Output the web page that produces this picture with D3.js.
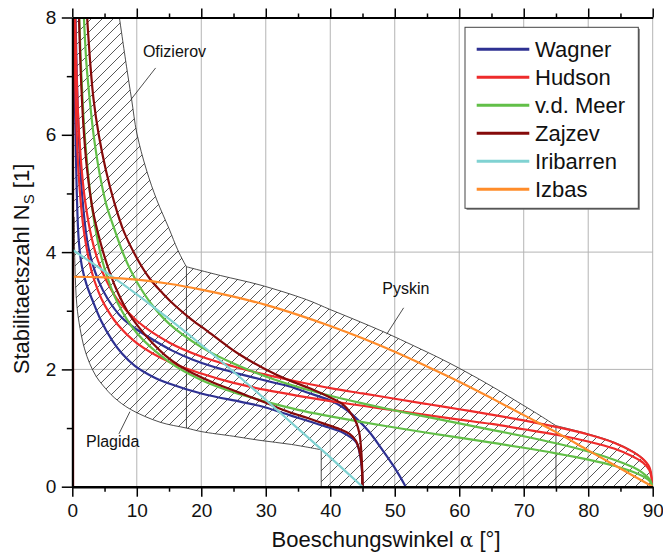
<!DOCTYPE html>
<html>
<head>
<meta charset="utf-8">
<script src="https://cdn.jsdelivr.net/npm/d3@7"></script>
<style>
  body { margin: 0; background: #fff; }
  text { font-family: "Liberation Sans", Arial, sans-serif; fill: #111; }
</style>
</head>
<body>
<svg id="chart" width="663" height="557"></svg>
<script>
// slope angle alpha [deg] vs. stability number Ns
var seriesNames = ["Wagner", "Hudson", "v.d. Meer", "Zajzev", "Iribarren", "Izbas"];
var seriesColors = ["#2e3192", "#ee2b2b", "#62bf48", "#850a0a", "#80d2d2", "#ff8c2a"];

var wagnerUpper = [[0.5,8],[0.7,7],[1.0,6],[1.5,5],[2.3,4.2],[3,3.85],[4.1,3.5],[5.5,3.2],[7.7,2.88],[10,2.68],[12.9,2.48],[15.5,2.32],[18.6,2.17],[22,2.04],[26,1.92],[31,1.78],[33.7,1.71],[36.3,1.61],[40,1.47],[42,1.35],[44,1.17],[46,0.94],[48,0.64],[50,0.32],[51.7,0]];
var wagnerLower = [[0.25,8],[0.35,7],[0.5,6],[0.7,5],[1.0,4.2],[1.5,3.75],[2.2,3.45],[3.05,3.2],[4.5,2.82],[6.15,2.5],[7.7,2.27],[9.7,2.06],[12.4,1.88],[15,1.76],[20,1.59],[26,1.45],[29,1.38],[33.7,1.22],[38.9,1.04],[42,0.92],[44,0.76],[44.6,0.55],[44.9,0.3],[45,0]];

var hudsonUpper = [[0.45,8],[0.6,7.26],[0.8,6.59],[1,6.12],[1.5,5.35],[2,4.86],[3,4.24],[4,3.85],[5,3.58],[7,3.19],[10,2.83],[15,2.46],[20,2.22],[25,2.05],[30,1.91],[35,1.79],[40,1.68],[45,1.59],[50,1.5],[55,1.41],[60,1.32],[65,1.23],[70,1.13],[75,1.02],[80,0.89],[84,0.75],[87,0.59],[88.5,0.47],[89.5,0.33],[90,0]];
var hudsonLower = [[0.29,8],[0.4,7.19],[0.6,6.28],[0.8,5.71],[1,5.3],[1.5,4.63],[2,4.21],[3,3.67],[4,3.34],[5,3.1],[7,2.77],[10,2.45],[15,2.13],[20,1.93],[25,1.77],[30,1.65],[35,1.55],[40,1.46],[45,1.38],[50,1.3],[55,1.22],[60,1.145],[65,1.07],[70,0.98],[75,0.886],[80,0.77],[84,0.65],[87,0.51],[88.5,0.41],[89.5,0.28],[90,0]];

var meerUpper = [[1.8,8],[2.2,7.2],[2.7,6.6],[3.3,6.0],[4.3,5.3],[5.3,4.8],[6.5,4.4],[7.8,4.0],[9,3.7],[10.5,3.4],[12.5,3.08],[15,2.78],[20,2.38],[25,2.1],[30,1.88],[35,1.7],[40,1.55],[45,1.42],[50,1.3],[55,1.19],[60,1.08],[65,0.97],[70,0.86],[75,0.74],[80,0.6],[84,0.46],[87,0.33],[88.5,0.23],[89.5,0.13],[90,0]];
var meerLower = [[1.08,8],[1.3,7.3],[1.6,6.58],[2,5.89],[3,4.81],[4,4.16],[5,3.72],[7,3.14],[10,2.62],[15,2.13],[20,1.82],[25,1.61],[30,1.45],[35,1.31],[40,1.2],[45,1.1],[50,1.01],[55,0.92],[60,0.836],[65,0.751],[70,0.664],[75,0.569],[80,0.462],[84,0.357],[87,0.252],[88.5,0.178],[89.5,0.103],[90,0]];

var zajzevUpper = [[2.3,8],[2.8,7.2],[3.3,6.6],[4.1,6.0],[5.2,5.4],[6.5,4.85],[8.0,4.35],[10,3.9],[12,3.55],[14,3.3],[16,3.08],[18.5,2.85],[21,2.65],[24,2.4],[26,2.25],[30,2.0],[33.7,1.81],[37,1.67],[40,1.52],[42,1.4],[43,1.28],[44,1.1],[44.5,0.92],[44.8,0.62],[44.95,0.3],[45,0]];
var zajzevLower = [[1.04,8],[1.3,7.1],[1.7,6.2],[2.3,5.4],[3.2,4.7],[4.4,4.15],[5.5,3.75],[6.7,3.4],[8.5,3.0],[10.3,2.72],[12.5,2.44],[14.4,2.24],[16.5,2.07],[18.6,1.94],[22,1.77],[26,1.6],[30,1.43],[33.7,1.27],[36.5,1.17],[38.9,1.08],[41.5,0.98],[43,0.9],[44,0.78],[44.5,0.62],[44.85,0.4],[45,0]];
var zajzevAxis = [[0.12,8],[0.12,0]];

var iribarren = [[0,4.04],[5,3.67],[10,3.28],[15,2.86],[20,2.42],[25,1.96],[30,1.48],[35,0.99],[40,0.5],[45,0]];
var izbas = [[0,3.58],[5,3.57],[10,3.53],[15,3.46],[20,3.36],[25,3.24],[30,3.1],[35,2.93],[40,2.74],[45,2.53],[50,2.3],[55,2.05],[60,1.79],[65,1.51],[70,1.22],[75,0.93],[80,0.62],[85,0.31],[90,0]];

// hatched range boundaries
var ofizierov = [[7.3,8],[8.4,7.17],[9.2,6.6],[10,6.03],[11.5,5.4],[13.1,4.89],[15,4.4],[16.3,4.05],[17.2,3.85],[17.7,3.75]];
var pyskin = [[17.7,3.75],[23,3.6],[29.1,3.44],[36.3,3.19],[40,3.02],[44,2.84],[48.7,2.62],[53,2.4],[57,2.19],[60,2.02],[63,1.84],[66,1.65],[69,1.45],[72,1.25],[75,1.04]];
var pyskinEnd = [[75,1.04],[80,0.9],[84,0.76],[87,0.6],[88.5,0.48],[89.5,0.33],[90,0]];
var plagida = [[0.3,4.6],[0.4,3.8],[0.7,3.1],[1.2,2.7],[1.9,2.35],[2.7,2.1],[3.7,1.88],[4.8,1.72],[6.5,1.52],[9,1.32],[13.6,1.1],[17.7,1.0],[20,0.94],[25,0.86],[29.1,0.79],[34,0.72],[38.6,0.63]];
var dividers = [[[17.7,3.75],[17.7,1.0]], [[38.6,0.63],[38.6,0]], [[75,1.04],[75,0]]];

var rangeLabels = ["Ofizierov", "Pyskin", "Plagida"];
var labelPos = [[10.95,7.33],[48.08,3.29],[2.12,0.68]];
var pointers = [[[12.92,7.14],[9.09,6.6]], [[51.38,3.05],[48.75,2.6]], [[8.94,1.28],[7.23,0.9]]];

var xTicks = [0,10,20,30,40,50,60,70,80,90];
var xMinor = [5,15,25,35,45,55,65,75,85];
var yTicks = [0,2,4,6,8];
var yMinor = [1,3,5,7];
var gridX = [10,20,30,40,50,60,70,80,90];
var gridY = [2,4];

var x = d3.scaleLinear().domain([0, 90]).range([72.3, 652.7]);
var y = d3.scaleLinear().domain([0, 8]).range([486.7, 17.5]);

var svg = d3.select("#chart");
var defs = svg.append("defs");
defs.append("clipPath").attr("id", "plot").append("rect")
  .attr("x", x(0)).attr("y", y(8))
  .attr("width", x(90) - x(0)).attr("height", y(0) - y(8));
var pat = defs.append("pattern").attr("id", "hatch")
  .attr("patternUnits", "userSpaceOnUse").attr("width", 11).attr("height", 11);
pat.append("path").attr("d", "M-1,1 L1,-1 M0,11 L11,0 M10,12 L12,10")
  .attr("stroke", "#222").attr("stroke-width", 0.75);

var line = d3.line()
  .x(function(d) { return x(d[0]); })
  .y(function(d) { return y(d[1]); })
  .curve(d3.curveCatmullRom.alpha(0.5));

// grid
svg.append("g").selectAll("line").data(gridX).join("line")
  .attr("x1", function(d) { return x(d); }).attr("x2", function(d) { return x(d); })
  .attr("y1", y(0)).attr("y2", y(8))
  .attr("stroke", "#b4b4b4").attr("stroke-width", 1);
svg.append("g").selectAll("line").data(gridY).join("line")
  .attr("x1", x(0)).attr("x2", x(90))
  .attr("y1", function(d) { return y(d); }).attr("y2", function(d) { return y(d); })
  .attr("stroke", "#b4b4b4").attr("stroke-width", 1);

// hatched area
var outline = [
  [[0.3,8],[7.3,8]], ofizierov, pyskin, pyskinEnd,
  [[90,0],[38.6,0]], [[38.6,0],[38.6,0.63]],
  plagida.slice().reverse(), [[0.3,4.6],[0.3,8]]
];
var areaPath = outline.map(function(seg, i) {
  var p = line(seg);
  return i ? p.replace(/^M/, "L") : p;
}).join("") + "Z";

var plot = svg.append("g").attr("clip-path", "url(#plot)");
plot.append("path").attr("d", areaPath).attr("fill", "url(#hatch)");

var bounds = [ofizierov, pyskin, pyskinEnd, plagida].concat(dividers);
plot.append("g").selectAll("path").data(bounds).join("path")
  .attr("d", line).attr("fill", "none")
  .attr("stroke", "#222").attr("stroke-width", 0.8);

plot.append("g").selectAll("line").data(pointers).join("line")
  .attr("x1", function(d) { return x(d[0][0]); }).attr("y1", function(d) { return y(d[0][1]); })
  .attr("x2", function(d) { return x(d[1][0]); }).attr("y2", function(d) { return y(d[1][1]); })
  .attr("stroke", "#222").attr("stroke-width", 0.8);

svg.append("g").selectAll("text").data(rangeLabels).join("text")
  .attr("x", function(d, i) { return x(labelPos[i][0]); })
  .attr("y", function(d, i) { return y(labelPos[i][1]); })
  .attr("font-size", 16)
  .text(function(d) { return d; });

// curves
var curves = [
  {s: 0, pts: wagnerUpper}, {s: 0, pts: wagnerLower},
  {s: 1, pts: hudsonUpper}, {s: 1, pts: hudsonLower},
  {s: 2, pts: meerUpper}, {s: 2, pts: meerLower},
  {s: 3, pts: zajzevUpper}, {s: 3, pts: zajzevLower}, {s: 3, pts: zajzevAxis},
  {s: 4, pts: iribarren}, {s: 5, pts: izbas}
];
plot.append("g").selectAll("path").data(curves).join("path")
  .attr("d", function(d) { return line(d.pts); })
  .attr("fill", "none")
  .attr("stroke", function(d) { return seriesColors[d.s]; })
  .attr("stroke-width", 2.2);

// axes
function styleAxis(g, w) {
  g.select(".domain").attr("stroke", "#000").attr("stroke-width", w);
  g.selectAll(".tick line").attr("stroke", "#000").attr("stroke-width", 1.5);
  g.selectAll(".tick text").attr("font-size", 19).attr("font-family", "Liberation Sans, Arial, sans-serif").attr("fill", "#111");
}

svg.append("g").attr("transform", "translate(0," + y(0) + ")")
  .call(d3.axisBottom(x).tickValues(xMinor).tickSize(5).tickFormat(""))
  .call(function(g) { g.select(".domain").remove(); })
  .call(styleAxis, 0);
svg.append("g").attr("transform", "translate(0," + y(0) + ")")
  .call(d3.axisBottom(x).tickValues(xTicks).tickSize(10).tickSizeOuter(0).tickPadding(7))
  .call(styleAxis, 2.4);

svg.append("g").attr("transform", "translate(0," + y(8) + ")")
  .call(d3.axisTop(x).tickValues(xMinor).tickSize(4).tickFormat(""))
  .call(function(g) { g.select(".domain").remove(); })
  .call(styleAxis, 0);
svg.append("g").attr("transform", "translate(0," + y(8) + ")")
  .call(d3.axisTop(x).tickValues(xTicks).tickSize(9).tickSizeOuter(0).tickFormat(""))
  .call(styleAxis, 2);

svg.append("g").attr("transform", "translate(" + x(0) + ",0)")
  .call(d3.axisLeft(y).tickValues(yMinor).tickSize(5.5).tickFormat(""))
  .call(function(g) { g.select(".domain").remove(); })
  .call(styleAxis, 0);
svg.append("g").attr("transform", "translate(" + x(0) + ",0)")
  .call(d3.axisLeft(y).tickValues(yTicks).tickSize(10.5).tickSizeOuter(0).tickPadding(5.5))
  .call(styleAxis, 2);

// axis titles
var xt = svg.append("text").attr("x", 386).attr("y", 547)
  .attr("text-anchor", "middle").attr("font-size", 22);
xt.append("tspan").text("Boeschungswinkel ");
xt.append("tspan").attr("font-family", "DejaVu Serif, serif").attr("font-size", 20).text("α");
xt.append("tspan").text(" [°]");

var yt = svg.append("text").attr("transform", "translate(28.5,269) rotate(-90)")
  .attr("text-anchor", "middle").attr("font-size", 22);
yt.append("tspan").text("Stabilitaetszahl N");
yt.append("tspan").attr("font-size", 15).attr("dy", 5).text("S");
yt.append("tspan").attr("dy", -5).text(" [1]");

// legend
var lg = svg.append("g");
lg.append("rect").attr("x", 466.5).attr("y", 28.8).attr("width", 173.3).attr("height", 181)
  .attr("fill", "#777");
lg.append("rect").attr("x", 465).attr("y", 27.3).attr("width", 173.3).attr("height", 181)
  .attr("fill", "#fff").attr("stroke", "#444").attr("stroke-width", 1);
var items = lg.selectAll("g.item").data(seriesNames).join("g").attr("class", "item")
  .attr("transform", function(d, i) { return "translate(0," + (49.3 + i * 28) + ")"; });
items.append("line").attr("x1", 476.7).attr("x2", 529.3)
  .attr("stroke", function(d, i) { return seriesColors[i]; }).attr("stroke-width", 3);
items.append("text").attr("x", 535).attr("y", 8).attr("font-size", 22)
  .text(function(d) { return d; });
</script>
</body>
</html>
